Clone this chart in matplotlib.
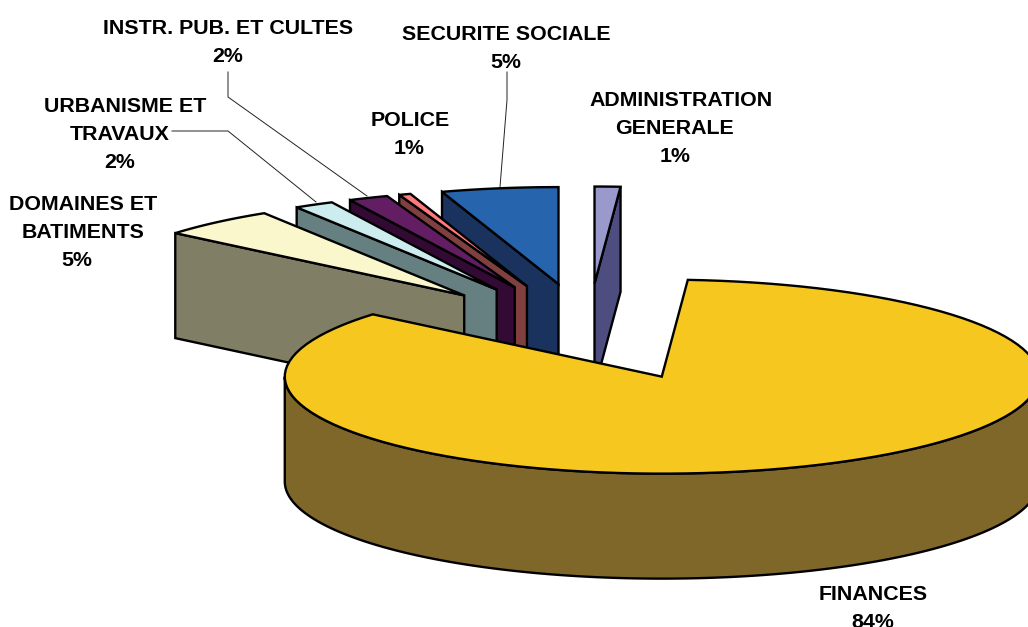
import numpy as np
import matplotlib
matplotlib.use('Agg')
import matplotlib.pyplot as plt
from matplotlib.patches import Polygon

# clockwise from 12 o'clock
names = ['ADMINISTRATION', 'FINANCES', 'DOMAINES', 'URBANISME', 'INSTR', 'POLICE', 'SECURITE']
values = [1.1, 85.0, 5.0, 1.7, 1.7, 0.5, 5.0]
top_colors = ['#9999CC', '#F6C71E', '#FBF7CD', '#CDECF0', '#631E63', '#FF7A7A', '#2664AD']
side_colors = ['#4D4D80', '#7F6629', '#807F66', '#667F80', '#330A33', '#804040', '#1A335E']
# back to front, as the slices overlap
draw_order = ['SECURITE', 'POLICE', 'INSTR', 'URBANISME', 'DOMAINES', 'ADMINISTRATION', 'FINANCES']

label_lines = ['INSTR. PUB. ET CULTES', '2%', 'SECURITE SOCIALE', '5%', 'ADMINISTRATION', 'GENERALE', '1%',
               'POLICE', '1%', 'URBANISME ET', 'TRAVAUX', '2%', 'DOMAINES ET', 'BATIMENTS', '5%',
               'FINANCES', '84%']
label_x = [228, 228, 506, 506, 681, 675, 675, 410, 409, 125, 120, 120, 83, 83, 77, 873, 873]
label_y = [28, 56, 34, 62, 100, 128, 156, 120, 148, 107, 135, 163, 205, 233, 261, 594, 623]

leader_lines = [
    ([228, 228, 367], [72, 97, 196]),
    ([172, 228, 316], [131, 131, 202]),
    ([507, 507, 500], [72, 100, 187]),
]

CX, CY = 588, 332
RX, RY = 377, 97
DEPTH = 105
EXPLODE = 0.5
EDGE = 1.7


def rim_points(ax_, ay_, a1, a2, dy=0):
    t = np.radians(np.linspace(a1, a2, 120))
    return np.column_stack([ax_ + RX * np.cos(t), ay_ - RY * np.sin(t) + dy])


def draw_slice(ax, a1, a2, top, side):
    mid = np.radians((a1 + a2) / 2)
    px = CX + EXPLODE * RX * np.cos(mid)
    py = CY - EXPLODE * RY * np.sin(mid)

    # cut faces, only the ones turned to the viewer
    for ang, visible in [(a1, np.cos(np.radians(a1)) < 0), (a2, np.cos(np.radians(a2)) > 0)]:
        if visible:
            ox, oy = rim_points(px, py, ang, ang)[0]
            pts = [(px, py), (ox, oy), (ox, oy + DEPTH), (px, py + DEPTH)]
            ax.add_patch(Polygon(pts, closed=True, fc=side, ec='black', lw=EDGE))

    # outer wall, front half of the ellipse
    hi, lo = min(a1, 0), max(a2, -180)
    if hi > lo:
        upper = rim_points(px, py, hi, lo)
        lower = rim_points(px, py, lo, hi, dy=DEPTH)
        ax.add_patch(Polygon(np.vstack([upper, lower]), closed=True, fc=side, ec='black', lw=EDGE))

    outline = np.vstack([[(px, py)], rim_points(px, py, a1, a2)])
    ax.add_patch(Polygon(outline, closed=True, fc=top, ec='black', lw=EDGE))


fig = plt.figure(figsize=(10.28, 6.27), dpi=100)
ax = fig.add_axes([0, 0, 1, 1])
ax.set_xlim(0, 1028)
ax.set_ylim(627, 0)
ax.axis('off')

for xs, ys in leader_lines:
    ax.plot(xs, ys, color='#222222', lw=0.7, zorder=0)

angles = 90 - np.concatenate([[0], np.cumsum(values)]) / sum(values) * 360
spans = {n: (angles[i], angles[i + 1]) for i, n in enumerate(names)}
for name in draw_order:
    i = names.index(name)
    draw_slice(ax, spans[name][0], spans[name][1], top_colors[i], side_colors[i])

for txt, x, y in zip(label_lines, label_x, label_y):
    ax.text(x, y, txt, ha='center', va='center', fontsize=15.4, fontweight='bold',
            family='Liberation Sans', color='black', clip_on=False)

plt.savefig('out.png', dpi=100)
